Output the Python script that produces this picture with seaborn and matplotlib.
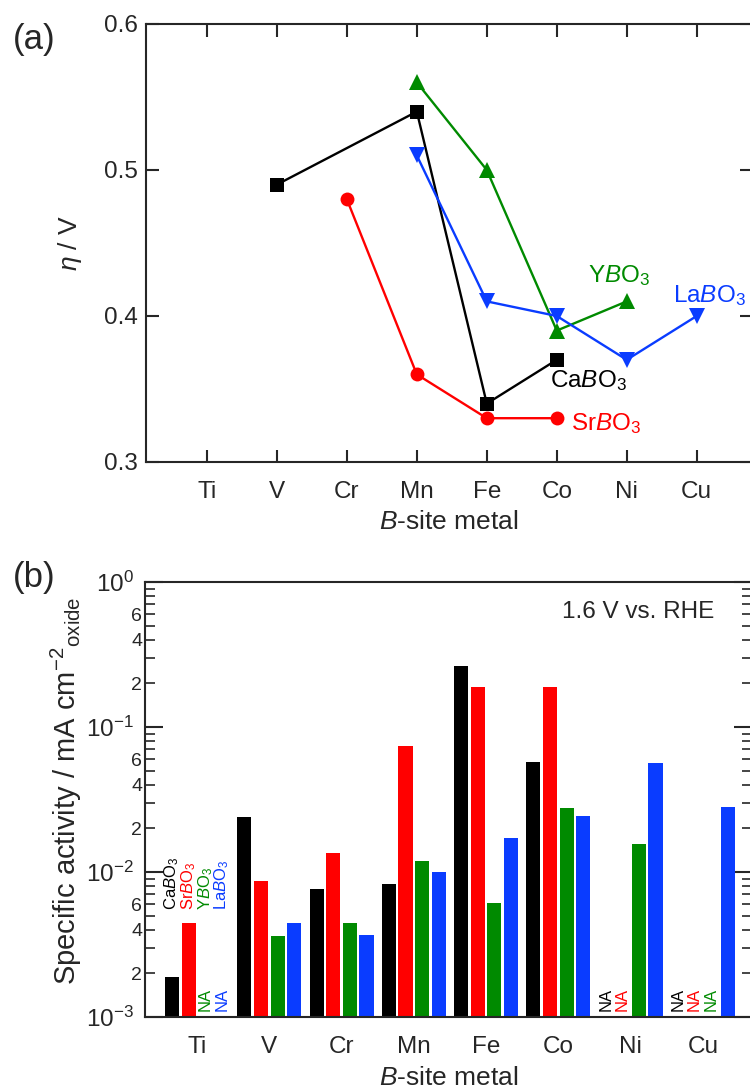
import numpy as np
import pandas as pd
import matplotlib
matplotlib.use("Agg")
import matplotlib.pyplot as plt
import seaborn as sns
from matplotlib.ticker import LogLocator, FuncFormatter, FixedLocator, LogFormatterMathtext

# ---------------- data ----------------
metals = ["Ti", "V", "Cr", "Mn", "Fe", "Co", "Ni", "Cu"]
compounds = ["CaBO3", "SrBO3", "YBO3", "LaBO3"]
compound_labels = [r"Ca$\mathit{B}$O$_3$", r"Sr$\mathit{B}$O$_3$",
                   r"Y$\mathit{B}$O$_3$", r"La$\mathit{B}$O$_3$"]
colors = ["#000000", "#ff0000", "#008a00", "#0a3cff"]
markers = ["s", "o", "^", "v"]

nan = np.nan
# (a) overpotential eta / V
eta_Ca = [nan, 0.49, nan, 0.54, 0.34, 0.37, nan, nan]
eta_Sr = [nan, nan, 0.48, 0.36, 0.33, 0.33, nan, nan]
eta_Y = [nan, nan, nan, 0.56, 0.50, 0.39, 0.41, nan]
eta_La = [nan, nan, nan, 0.51, 0.41, 0.40, 0.37, 0.40]

# (b) specific activity / mA cm^-2 oxide at 1.6 V vs. RHE
act_Ca = [1.9e-3, 2.4e-2, 7.6e-3, 8.3e-3, 0.265, 0.057, nan, nan]
act_Sr = [4.45e-3, 8.7e-3, 1.35e-2, 0.074, 0.19, 0.19, nan, nan]
act_Y = [nan, 3.6e-3, 4.45e-3, 1.19e-2, 6.1e-3, 2.76e-2, 1.56e-2, nan]
act_La = [nan, 4.45e-3, 3.7e-3, 1.0e-2, 1.71e-2, 2.43e-2, 5.63e-2, 2.81e-2]

eta_all = [eta_Ca, eta_Sr, eta_Y, eta_La]
act_all = [act_Ca, act_Sr, act_Y, act_La]

# ---------------- style ----------------
sns.set_style("ticks")
plt.rcParams["font.family"] = ["Liberation Sans", "DejaVu Sans"]
plt.rcParams["mathtext.fontset"] = "custom"
plt.rcParams["mathtext.rm"] = "Liberation Sans"
plt.rcParams["mathtext.it"] = "Liberation Sans:italic"
plt.rcParams["mathtext.bf"] = "Liberation Sans:bold"
plt.rcParams["mathtext.sf"] = "Liberation Sans"
plt.rcParams["axes.linewidth"] = 1.5

TICK_FS = 17.5
LABEL_FS = 19

W, H = 750, 1091
fig = plt.figure(figsize=(W / 100, H / 100), dpi=100)

def frac(x0, y0, x1, y1):
    return [x0 / W, 1 - y1 / H, (x1 - x0) / W, (y1 - y0) / H]

# ---------------- panel (a) ----------------
ax1 = fig.add_axes(frac(146, 24, 752, 462))
for vals, c, m, lab in zip(eta_all, colors, markers, compounds):
    d = pd.DataFrame({"x": np.arange(len(metals)), "eta": vals}).dropna()
    ms = 11 if m in ("^", "v") else 10
    sns.lineplot(data=d, x="x", y="eta", ax=ax1, color=c, marker=m,
                 markersize=ms, markeredgewidth=0, linewidth=1.7, sort=True)

ax1.set_xlim(-0.87, 7.79)
ax1.set_ylim(0.3, 0.6)
ax1.set_xticks(np.arange(len(metals)))
ax1.set_xticklabels(metals)
ax1.set_yticks([0.3, 0.4, 0.5, 0.6])
ax1.set_yticklabels(["0.3", "0.4", "0.5", "0.6"])
ax1.tick_params(axis="both", direction="in", length=9, width=1.5,
                top=True, right=True, labelsize=TICK_FS)
ax1.tick_params(axis="x", pad=13.5)
ax1.tick_params(axis="y", pad=6)
ax1.set_xlabel(r"$\mathit{B}$-site metal", fontsize=LABEL_FS, labelpad=5.5)
ax1.set_ylabel(r"$\eta$ / V", fontsize=LABEL_FS)
ax1.yaxis.set_label_coords(-0.102, 0.5)

ax1.text(4.9, 0.356, compound_labels[0], color=colors[0], fontsize=TICK_FS,
         ha="left", va="center")
ax1.text(5.21, 0.326, compound_labels[1], color=colors[1], fontsize=TICK_FS,
         ha="left", va="center")
ax1.text(5.45, 0.428, compound_labels[2], color=colors[2], fontsize=TICK_FS,
         ha="left", va="center")
ax1.text(6.66, 0.414, compound_labels[3], color=colors[3], fontsize=TICK_FS,
         ha="left", va="center")

fig.text(13 / W, 1 - 40 / H, "(a)", fontsize=25, ha="left", va="center")

# ---------------- panel (b) ----------------
ax2 = fig.add_axes(frac(145, 582, 752, 1017))
ax2.set_yscale("log")
rows = []
for comp, vals in zip(compounds, act_all):
    for met, v in zip(metals, vals):
        if not np.isnan(v):
            rows.append({"metal": met, "compound": comp, "activity": v})
df_b = pd.DataFrame(rows)
GROUP_W = 0.92
sns.barplot(data=df_b, x="metal", y="activity", hue="compound",
            order=metals, hue_order=compounds,
            palette=dict(zip(compounds, colors)), saturation=1,
            width=GROUP_W, gap=0.15, errorbar=None, linewidth=0,
            legend=False, ax=ax2)

ax2.set_ylim(1e-3, 1)
ax2.set_xlim(-0.72, 7.68)
ax2.yaxis.set_major_locator(FixedLocator([1e-3, 1e-2, 1e-1, 1]))
ax2.yaxis.set_major_formatter(LogFormatterMathtext())
ax2.yaxis.set_minor_locator(LogLocator(base=10, subs=np.arange(2, 10), numticks=20))

def minor_fmt(v, pos):
    lead = int(round(v / 10 ** np.floor(np.log10(v) + 1e-9)))
    return str(lead) if lead in (2, 4, 6) else ""

ax2.yaxis.set_minor_formatter(FuncFormatter(minor_fmt))
ax2.tick_params(axis="y", which="major", direction="in", length=13, width=1.5,
                left=True, right=True, labelsize=TICK_FS, pad=8)
ax2.tick_params(axis="y", which="minor", direction="in", length=7, width=1.2,
                left=True, right=True, labelsize=14, pad=2)
ax2.tick_params(axis="x", length=0, labelsize=TICK_FS, pad=13.5)
ax2.set_xlabel(r"$\mathit{B}$-site metal", fontsize=LABEL_FS, labelpad=6)
ax2.set_ylabel(r"Specific activity / mA cm$^{-2}$$_{\mathrm{oxide}}$",
               fontsize=21)
ax2.yaxis.set_label_coords(-0.1, 0.52)

step = GROUP_W / len(compounds)
# compound names above the Ti group
for j, (lab, c) in enumerate(zip(compound_labels, colors)):
    ax2.text(0 + (j - 1.5) * step, 5.5e-3, lab, color=c, fontsize=12,
             rotation=90, ha="center", va="bottom")
# NA markers for missing bars
for j, (vals, c) in enumerate(zip(act_all, colors)):
    for i, v in enumerate(vals):
        if np.isnan(v):
            ax2.text(i + (j - 1.5) * step, 1.1e-3, "NA", color=c, fontsize=12,
                     rotation=90, ha="center", va="bottom")

ax2.text(0.937, 0.931, "1.6 V vs. RHE", transform=ax2.transAxes,
         fontsize=TICK_FS, ha="right", va="center")

fig.text(13 / W, 1 - 577 / H, "(b)", fontsize=25, ha="left", va="center")

fig.savefig("out.png", dpi=100)
